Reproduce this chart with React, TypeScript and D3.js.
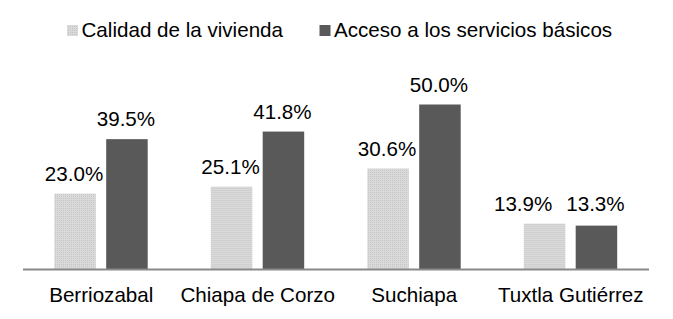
import React from "react";
import * as d3 from "d3";

const categories = ["Berriozabal", "Chiapa de Corzo", "Suchiapa", "Tuxtla Gutiérrez"];
const seriesNames = ["Calidad de la vivienda", "Acceso a los servicios básicos"];
const calidad = [23.0, 25.1, 30.6, 13.9];
const acceso = [39.5, 41.8, 50.0, 13.3];
const seriesValues = [calidad, acceso];
const colors = ["#d4d4d4", "#595959"];

const W = 673;
const H = 319;
const FONT = "Liberation Sans, Arial, sans-serif";
const FS = 20.6;

export default function App() {
  const x = d3.scaleBand<string>().domain(categories).range([23, 649]).padding(0);
  const sub = d3
    .scaleBand<string>()
    .domain(seriesNames)
    .range([31.3, 124.7])
    .paddingInner(0.2)
    .paddingOuter(0);
  const y = d3.scaleLinear().domain([0, 50]).range([269.5, 104.5]);
  const fmt = (v: number) => d3.format(".1f")(v) + "%";
  const labelW = FS * 2.83;
  const labelH = FS * 0.8;
  const minGap = 14;

  const legendItems = [
    { name: seriesNames[0], sq: 67, color: colors[0] },
    { name: seriesNames[1], sq: 319.5, color: colors[1] },
  ];

  return (
    <svg
      width={W}
      height={H}
      style={{ position: "absolute", left: 0, top: 0, background: "#fff" }}
      fontFamily={FONT}
    >
      <defs>
        <pattern id="dots" width="2" height="2" patternUnits="userSpaceOnUse">
          <rect width="2" height="2" fill="#dadada" />
          <rect width="1" height="1" fill="#c4c4c4" />
        </pattern>
      </defs>
      {legendItems.map((l, i) => (
        <g key={i}>
          <rect x={l.sq} y={25} width={11} height={11} fill={i === 0 ? "url(#dots)" : l.color} />
          <text x={l.sq + 14.5} y={36.5} fontSize={FS} fill="#000">
            {l.name}
          </text>
        </g>
      ))}
      {categories.map((c, ci) => {
        const bw = sub.bandwidth();
        const centers = seriesNames.map((s) => sub(s)! + bw / 2 - 1);
        const tops = seriesNames.map((s, si) => y(seriesValues[si][ci]) - 13);
        let lx = [...centers];
        let ly = [...tops];
        const overlapX = centers[1] - centers[0] < labelW + 2;
        const overlapY = Math.abs(tops[1] - tops[0]) < labelH;
        if (overlapX && overlapY) {
          lx[0] = centers[1] - labelW - minGap;
          const m = Math.min(tops[0], tops[1]);
          ly = [m, m];
        }
        return (
          <g key={c} transform={`translate(${x(c)},0)`}>
            {seriesNames.map((s, si) => {
              const v = seriesValues[si][ci];
              const bx = sub(s)!;
              return (
                <g key={s}>
                  <rect
                    x={bx}
                    y={y(v)}
                    width={bw}
                    height={y(0) - y(v)}
                    fill={si === 0 ? "url(#dots)" : colors[si]}
                  />
                  <text x={lx[si]} y={ly[si]} textAnchor="middle" fontSize={FS} fill="#000">
                    {fmt(v)}
                  </text>
                </g>
              );
            })}
            <text x={x.bandwidth() / 2} y={301.5} textAnchor="middle" fontSize={FS} fill="#000">
              {c}
            </text>
          </g>
        );
      })}
      <line x1={23} x2={649} y1={269.5} y2={269.5} stroke="#898989" strokeWidth={2} />
    </svg>
  );
}
